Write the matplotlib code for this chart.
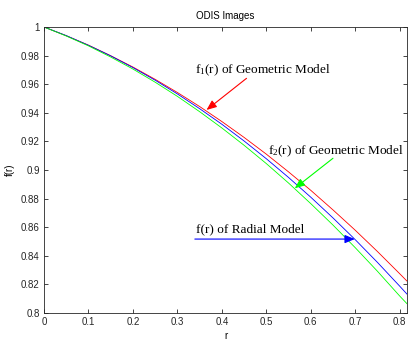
import matplotlib
matplotlib.use("Agg")
import matplotlib.pyplot as plt

# Data
r_vals = [0.0, 0.05, 0.10, 0.15, 0.20, 0.25, 0.30, 0.35, 0.40, 0.45, 0.50,
          0.55, 0.60, 0.65, 0.70, 0.75, 0.80, 0.8165]
f1_geometric = [1.0, 0.9939, 0.9873, 0.9799, 0.9720, 0.9634, 0.9542, 0.9444,
                0.9339, 0.9228, 0.9111, 0.8987, 0.8858, 0.8721, 0.8579, 0.8430,
                0.8275, 0.8223]
f_radial = [1.0, 0.9940, 0.9872, 0.9798, 0.9716, 0.9628, 0.9532, 0.9429,
            0.9320, 0.9203, 0.9079, 0.8948, 0.8810, 0.8665, 0.8513, 0.8354,
            0.8188, 0.8132]
f2_geometric = [1.0, 0.9937, 0.9868, 0.9790, 0.9706, 0.9614, 0.9515, 0.9408,
                0.9294, 0.9173, 0.9045, 0.8909, 0.8765, 0.8615, 0.8457, 0.8292,
                0.8119, 0.8065]

x_ticks = [0, 0.1, 0.2, 0.3, 0.4, 0.5, 0.6, 0.7, 0.8]
x_tick_labels = ["0", "0.1", "0.2", "0.3", "0.4", "0.5", "0.6", "0.7", "0.8"]
y_ticks = [0.8, 0.82, 0.84, 0.86, 0.88, 0.9, 0.92, 0.94, 0.96, 0.98, 1.0]
y_tick_labels = ["0.8", "0.82", "0.84", "0.86", "0.88", "0.9", "0.92", "0.94",
                 "0.96", "0.98", "1"]

title_text = "ODIS Images"
label1 = "f$_1$(r) of Geometric Model"
label2 = "f$_2$(r) of Geometric Model"
label3 = "f(r) of Radial Model"

plt.rcParams['font.family'] = ['Liberation Sans', 'DejaVu Sans']
plt.rcParams['mathtext.fontset'] = 'custom'
plt.rcParams['mathtext.rm'] = 'Liberation Serif'
plt.rcParams['mathtext.it'] = 'Liberation Serif'

fig = plt.figure(figsize=(4.15, 3.45), dpi=100)
ax = fig.add_axes([44/415, 32/345, 363/415, 286/345])

ax.plot(r_vals, f1_geometric, color=(1, 0, 0), lw=0.6)
ax.plot(r_vals, f_radial, color=(0, 0, 1), lw=0.6)
ax.plot(r_vals, f2_geometric, color=(0, 1, 0), lw=0.6)

ax.set_xlim(0, r_vals[-1])
ax.set_ylim(0.8, 1.0)
ax.set_xticks(x_ticks)
ax.set_xticklabels(x_tick_labels)
ax.set_yticks(y_ticks)
ax.set_yticklabels(y_tick_labels)
ax.tick_params(direction='in', length=3, width=0.6, labelsize=7,
               top=True, right=True, pad=3, colors='#262626')
for s in ax.spines.values():
    s.set_linewidth(0.6)
    s.set_color('#262626')

ax.set_title(title_text, fontsize=7, pad=6)
ax.set_xlabel("r", fontsize=7, labelpad=3)
ax.set_ylabel("f(r)", fontsize=7, labelpad=4)

serif = dict(family=['Liberation Serif', 'DejaVu Serif'], fontsize=9.5)

ax.text(0.339, 0.970, label1, ha='left', va='center', **serif)
ax.text(0.503, 0.9128, label2, ha='left', va='center', **serif)
ax.text(0.343, 0.8585, label3, ha='left', va='center', **serif)

arrow_kw = dict(arrowstyle='-|>,head_length=0.6,head_width=0.25',
                mutation_scale=10, lw=0.8, shrinkA=0, shrinkB=0)
ax.annotate("", xy=(0.3656, 0.942), xytext=(0.4555, 0.9641),
            arrowprops=dict(color=(1, 0, 0), **arrow_kw))
ax.annotate("", xy=(0.564, 0.8872), xytext=(0.650, 0.9082),
            arrowprops=dict(color=(0, 1, 0), **arrow_kw))
ax.annotate("", xy=(0.699, 0.8517), xytext=(0.3393, 0.8517),
            arrowprops=dict(color=(0, 0, 1), **arrow_kw))

fig.savefig("out.png", dpi=100)
